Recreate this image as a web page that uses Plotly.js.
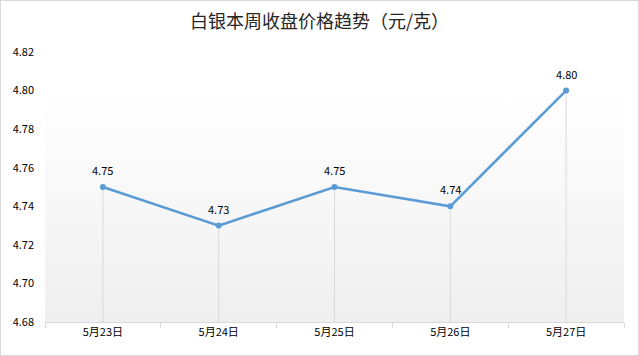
<!DOCTYPE html>
<html><head><meta charset="utf-8">
<script src="https://cdn.plot.ly/plotly-3.0.1.min.js"></script>
<style>
html,body{margin:0;padding:0;background:#fff;}
#wrap{width:639px;height:356px;box-sizing:border-box;border:1px solid #d9d9d9;position:relative;overflow:hidden;}
#chart{position:absolute;left:-1px;top:-1px;width:639px;height:356px;}
</style></head>
<body><div id="wrap"><div id="chart"></div></div>
<script>
const categories = ["5月23日","5月24日","5月25日","5月26日","5月27日"];
const prices = [4.75, 4.73, 4.75, 4.74, 4.80];
const yTicks = [4.68, 4.70, 4.72, 4.74, 4.76, 4.78, 4.80, 4.82];
const yMin = 4.68, yMax = 4.82;
const titleText = "白银本周收盘价格趋势（元/克）";

const font = "'Noto Sans CJK SC', 'Noto Sans', sans-serif";
const grad = 'data:image/svg+xml;utf8,' + encodeURIComponent(
 '<svg xmlns="http://www.w3.org/2000/svg" width="100" height="100" preserveAspectRatio="none">' +
 '<defs><linearGradient id="g" x1="0" y1="0" x2="0" y2="1">' +
 '<stop offset="0" stop-color="#ffffff"/><stop offset="0.15" stop-color="#ffffff"/><stop offset="1" stop-color="#efefef"/></linearGradient></defs>' +
 '<rect width="100" height="100" fill="url(#g)"/></svg>');

const trace = {
  x: categories, y: prices, type: 'scatter', mode: 'lines+markers',
  line: {color: '#5b9bd5', width: 2.5},
  marker: {color: '#5b9bd5', size: 6},
  error_y: {type: 'data', symmetric: false, array: prices.map(() => 0),
            arrayminus: prices.map(v => v - yMin), width: 0, thickness: 1, color: '#d9d9d9'},
  cliponaxis: false, hoverinfo: 'x+y'
};

const labels = categories.map((c, i) => ({
  x: c, y: prices[i], xref: 'x', yref: 'y', text: prices[i].toFixed(2),
  showarrow: false, yshift: 17, font: {family: font, size: 11, color: '#000'}
}));

const layout = {
  width: 639, height: 356,
  margin: {l: 45, r: 15, t: 52, b: 34},
  paper_bgcolor: 'rgba(0,0,0,0)', plot_bgcolor: 'rgba(0,0,0,0)',
  showlegend: false,
  title: {text: titleText, font: {family: font, size: 18, color: '#262626'}, x: 0.5, xanchor: 'center', y: 0.94, yanchor: 'middle'},
  images: [{source: grad, xref: 'paper', yref: 'paper', x: 0, y: 1, sizex: 1, sizey: 1,
            xanchor: 'left', yanchor: 'top', sizing: 'stretch', layer: 'below'}],
  annotations: labels,
  xaxis: {type: 'category', range: [-0.5, categories.length - 0.5], showgrid: false, showline: true, linecolor: '#d9d9d9', linewidth: 1,
          ticks: 'outside', tickson: 'boundaries', ticklen: 5, tickcolor: '#d9d9d9',
          tickfont: {family: font, size: 11, color: '#000'}, zeroline: false, fixedrange: true},
  yaxis: {range: [yMin, yMax], tickvals: yTicks, ticktext: yTicks.map(v => v.toFixed(2)),
          showgrid: false, zeroline: false, showline: false, ticks: '', ticklabelstandoff: 10,
          tickfont: {family: font, size: 11, color: '#000'}, fixedrange: true}
};
Plotly.newPlot('chart', [trace], layout, {displayModeBar: false, staticPlot: true});
</script></body></html>
